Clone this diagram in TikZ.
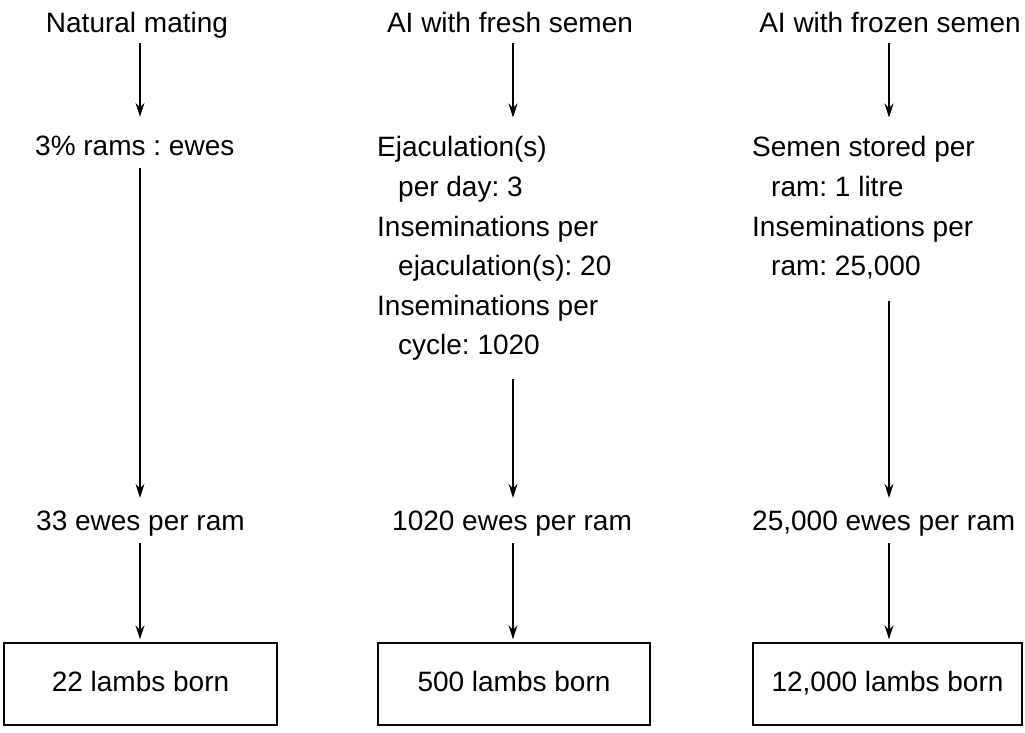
\documentclass[tikz,border=0pt]{standalone}
\usepackage{fontspec}
\setmainfont{Liberation Sans}
\usetikzlibrary{arrows.meta}
\frenchspacing
\begin{document}
\begin{tikzpicture}[x=1pt,y=-1pt,
  txt/.style={inner sep=0pt, font=\fontsize{28}{39.6}\selectfont, text height=21pt, text depth=6pt},
  blk/.style={inner sep=0pt, font=\fontsize{28}{39.6}\selectfont, align=left, anchor=north west},
  arr/.style={line width=1.2pt, -{Stealth[length=14pt,width=9pt]}},
  res/.style={draw, line width=1.4pt, inner sep=0pt, font=\fontsize{28}{34}\selectfont,
              text height=21pt, text depth=6pt, minimum height=82pt}]
\useasboundingbox (0,0) rectangle (1025,733);
\coordinate (c1) at (140,0);
\coordinate (c2) at (513,0);
\coordinate (c3) at (889,0);

% column 1
\node[txt, anchor=base] (t1) at (137,33) {Natural mating};
\node[txt, anchor=base west] (r1) at (35,155) {3\% rams : ewes};
\node[txt, anchor=base west] (e1) at (36,530) {33 ewes per ram};
\node[res, minimum width=273pt] (b1) at (140.5,684) {22 lambs born};

% column 2
\node[txt, anchor=base] (t2) at (510,33) {AI with fresh semen};
\node[blk] (m2) at (377,136.5) {Ejaculation(s)\\
\hspace*{21pt}per day: 3\\
Inseminations per\\
\hspace*{21pt}ejaculation(s): 20\\
Inseminations per\\
\hspace*{21pt}cycle: 1020};
\node[txt, anchor=base west] (e2) at (392,530) {1020 ewes per ram};
\node[res, minimum width=272pt] (b2) at (514,684) {500 lambs born};

% column 3
\node[txt, anchor=base] (t3) at (890,33) {AI with frozen semen};
\node[blk] (m3) at (752,136.5) {Semen stored per\\
\hspace*{19pt}ram: 1 litre\\
Inseminations per\\
\hspace*{19pt}ram: 25,000};
\node[txt, anchor=base west] (e3) at (752,530) {25,000 ewes per ram};
\node[res, minimum width=269pt] (b3) at (887.5,684) {12,000 lambs born};

% arrows column 1
\draw[arr, shorten <=4pt, shorten >=17pt] (t1.south -| c1) -- (r1.north -| c1);
\draw[arr, shorten <=7pt, shorten >=11pt] (r1.south -| c1) -- (e1.north -| c1);
\draw[arr, shorten <=7pt, shorten >=3pt] (e1.south -| c1) -- (b1.north -| c1);

% arrows column 2
\draw[arr, shorten <=4pt, shorten >=19pt] (t2.south -| c2) -- (m2.north -| c2);
\draw[arr, shorten <=18pt, shorten >=11pt] (m2.south -| c2) -- (e2.north -| c2);
\draw[arr, shorten <=7pt, shorten >=3pt] (e2.south -| c2) -- (b2.north -| c2);

% arrows column 3
\draw[arr, shorten <=4pt, shorten >=19pt] (t3.south -| c3) -- (m3.north -| c3);
\draw[arr, shorten <=21pt, shorten >=11pt] (m3.south -| c3) -- (e3.north -| c3);
\draw[arr, shorten <=7pt, shorten >=3pt] (e3.south -| c3) -- (b3.north -| c3);
\end{tikzpicture}
\end{document}
